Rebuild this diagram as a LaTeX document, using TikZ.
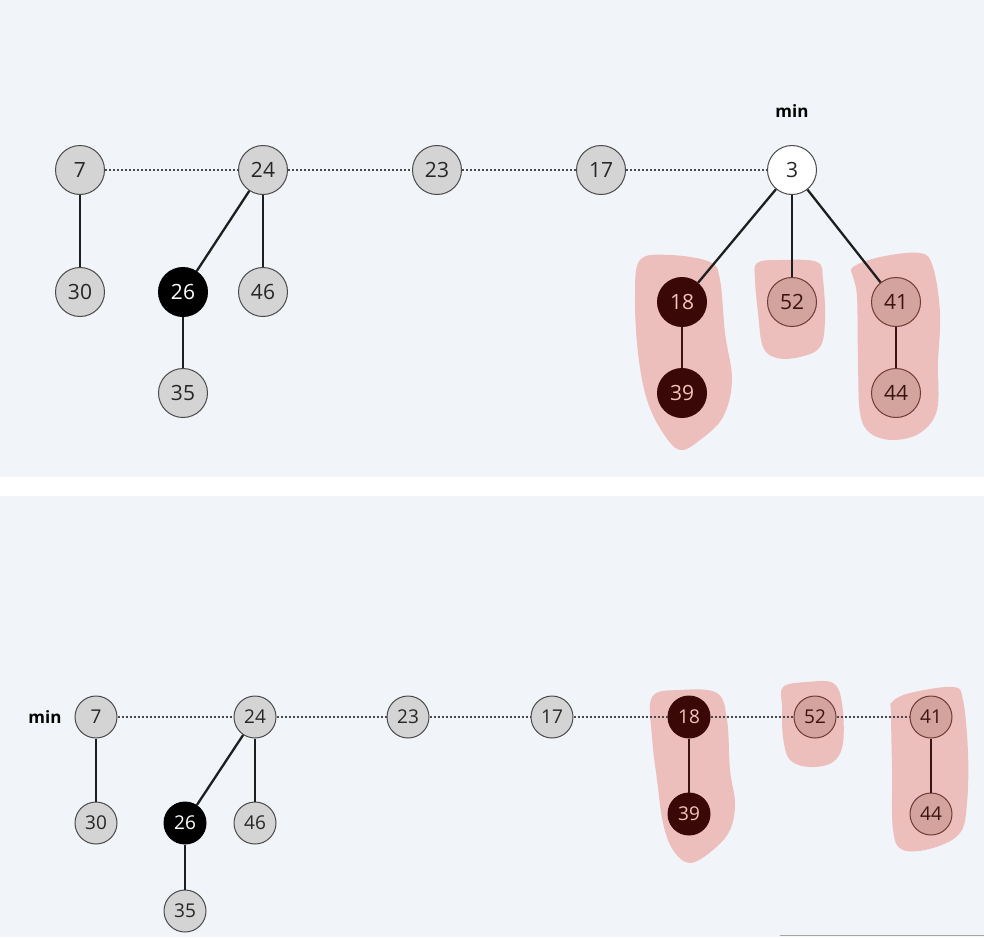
\documentclass[tikz,border=0pt]{standalone}
\usepackage{fontspec}
\setmainfont{Open Sans}
\definecolor{bgc}{HTML}{F1F5F9}
\definecolor{grayfill}{HTML}{D4D4D4}
\definecolor{grayline}{HTML}{4A4A4A}
\definecolor{darkfill}{HTML}{3A0907}
\definecolor{darktext}{HTML}{F2C4BC}
\definecolor{lightfill}{HTML}{D3A39E}
\definecolor{lightline}{HTML}{6E3A36}
\definecolor{lighttext}{HTML}{3B1410}
\definecolor{blobc}{HTML}{EDBFBC}
\definecolor{edgec}{HTML}{1E1E1E}
\definecolor{edgebr}{HTML}{3A1412}
\tikzset{
  nd/.style={circle, minimum size=49pt, inner sep=0pt, line width=1pt, font=\fontsize{21}{21}\selectfont},
  ndb/.style={nd, minimum size=42pt, font=\fontsize{19}{19}\selectfont},
  gr/.style={draw=grayline, fill=grayfill, text=black!85},
  bk/.style={draw=black, fill=black, text=white},
  wh/.style={draw=grayline, fill=white, text=black!85},
  dk/.style={draw=darkfill, fill=darkfill, text=darktext},
  lt/.style={draw=lightline, fill=lightfill, text=lighttext},
  tree/.style={draw=edgec, line width=2.3pt},
  treebr/.style={draw=edgebr, line width=2.3pt},
  root/.style={draw=grayline, line width=1.5pt, dash pattern=on 2pt off 2pt},
  blob/.style={fill=blobc, draw=none},
  lbl/.style={font=\bfseries\fontsize{17}{17}\selectfont, text=black}
}
\begin{document}
\begin{tikzpicture}[x=1pt,y=-1pt]
\useasboundingbox (0,0) rectangle (984,937);
\fill[bgc] (0,0) rectangle (984,477);
\fill[white] (0,477) rectangle (984,496);
\fill[bgc] (0,496) rectangle (984,937);
\draw[gray!70, line width=1pt] (780,935.5) -- (984,935.5);

% ---------- top panel ----------
\fill[blob] plot[smooth cycle, tension=0.6] coordinates {(640,260) (670,255) (710,262) (720,280) (725,333) (732,380) (723,417) (700,440) (680,450) (663,433) (647,400) (638,353) (635,297)};
\fill[blob] plot[smooth cycle, tension=0.6] coordinates {(757,263) (780,260) (817,262) (823,280) (825,320) (820,347) (800,357) (777,358) (763,347) (758,313) (755,280)};
\fill[blob] plot[smooth cycle, tension=0.6] coordinates {(853,267) (880,257) (920,253) (933,267) (940,313) (938,363) (937,410) (920,433) (893,440) (870,433) (860,413) (858,363) (857,297) (853,277)};

\node[nd,gr] (t7)  at (80,170) {7};
\node[nd,gr] (t24) at (263,170) {24};
\node[nd,gr] (t23) at (437,170) {23};
\node[nd,gr] (t17) at (601,170) {17};
\node[nd,wh] (t3)  at (792,170) {3};
\node[nd,gr] (t30) at (80,292) {30};
\node[nd,bk] (t26) at (183,292) {26};
\node[nd,gr] (t46) at (263,292) {46};
\node[nd,gr] (t35) at (183,393) {35};
\node[nd,dk] (t18) at (682,302) {18};
\node[nd,dk] (t39) at (682,393) {39};
\node[nd,lt] (t52) at (792,302) {52};
\node[nd,lt] (t41) at (896,302) {41};
\node[nd,lt] (t44) at (896,393) {44};
\node[lbl] (tmin) at (792,111) {min};

\draw[root] (t7) -- (t24) -- (t23) -- (t17) -- (t3);
\draw[tree] (t7) -- (t30);
\draw[tree] (t24) -- (t26);
\draw[tree] (t24) -- (t46);
\draw[tree] (t26) -- (t35);
\draw[tree] (t3) -- (t18);
\draw[tree] (t3) -- (t52);
\draw[tree] (t3) -- (t41);
\draw[treebr] (t18) -- (t39);
\draw[treebr] (t41) -- (t44);

% ---------- bottom panel ----------
\fill[blob] plot[smooth cycle, tension=0.6] coordinates {(652,697) (680,690) (717,693) (727,720) (730,770) (735,803) (730,830) (713,850) (690,863) (673,850) (663,823) (657,780) (652,737)};
\fill[blob] plot[smooth cycle, tension=0.6] coordinates {(783,687) (807,682) (833,683) (842,703) (843,743) (833,762) (810,767) (790,760) (783,737) (782,707)};
\fill[blob] plot[smooth cycle, tension=0.6] coordinates {(892,702) (910,693) (953,687) (963,700) (968,753) (967,803) (960,833) (933,848) (903,850) (893,830) (892,770) (891,713)};

\node[ndb,gr] (b7)  at (96,717) {7};
\node[ndb,gr] (b24) at (255,717) {24};
\node[ndb,gr] (b23) at (408,717) {23};
\node[ndb,gr] (b17) at (552,717) {17};
\node[ndb,dk] (b18) at (689,717) {18};
\node[ndb,lt] (b52) at (815,717) {52};
\node[ndb,lt] (b41) at (931,717) {41};
\node[ndb,gr] (b30) at (96,823) {30};
\node[ndb,bk] (b26) at (185,823) {26};
\node[ndb,gr] (b46) at (255,823) {46};
\node[ndb,gr] (b35) at (185,911) {35};
\node[ndb,dk] (b39) at (689,814) {39};
\node[ndb,lt] (b44) at (931,814) {44};
\node[lbl] (bmin) at (45,717) {min};

\draw[root] (b7) -- (b24) -- (b23) -- (b17) -- (b18) -- (b52) -- (b41);
\draw[tree] (b7) -- (b30);
\draw[tree] (b24) -- (b26);
\draw[tree] (b24) -- (b46);
\draw[tree] (b26) -- (b35);
\draw[treebr] (b18) -- (b39);
\draw[treebr] (b41) -- (b44);
\end{tikzpicture}
\end{document}
